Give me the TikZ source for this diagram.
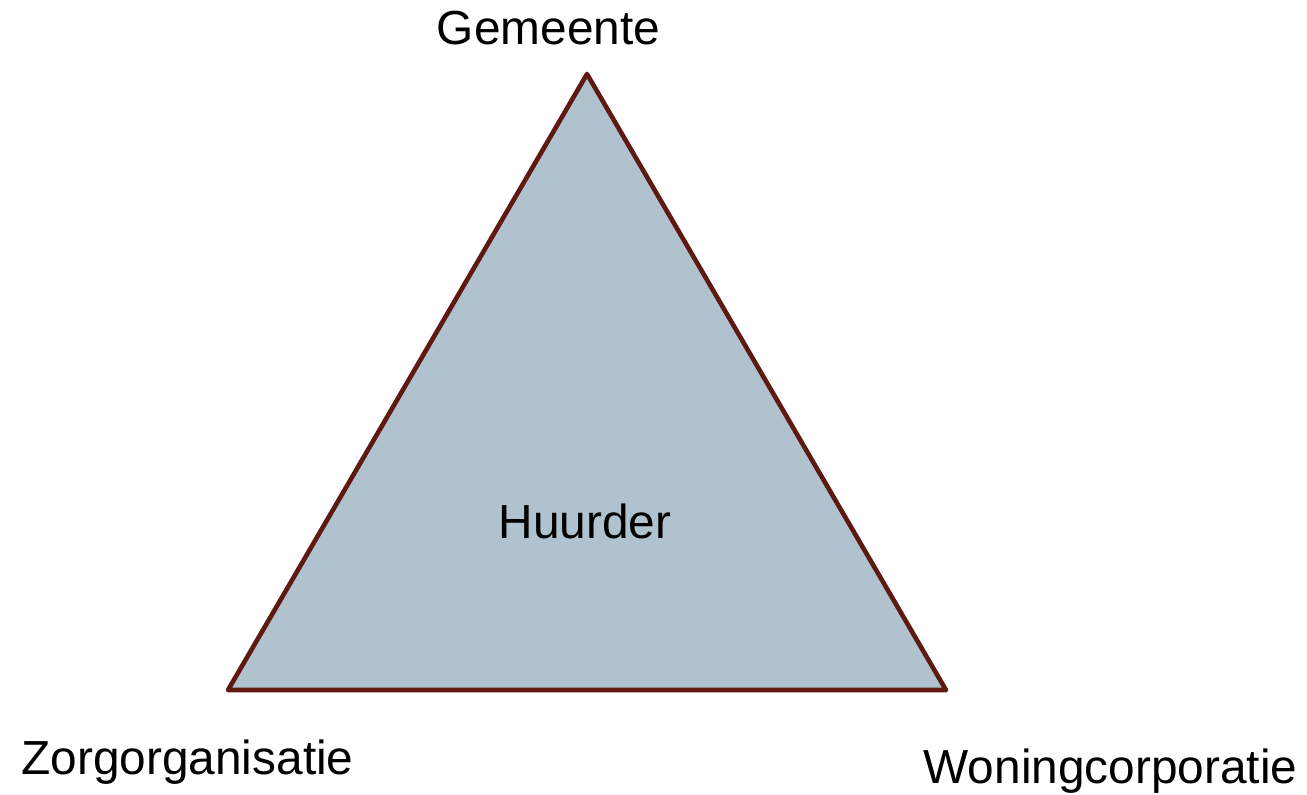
\documentclass[tikz,border=0pt]{standalone}
\usepackage{fontspec}
\setmainfont{Liberation Sans}
\definecolor{trifill}{HTML}{B0C2CE}
\definecolor{triedge}{HTML}{5E1A12}
\tikzset{lbl/.style={inner sep=0pt, anchor=base, font=\fontsize{47.8}{57}\selectfont}}
\begin{document}
\begin{tikzpicture}[x=1pt,y=-1pt]
\useasboundingbox (0,0) rectangle (1307,795);
\coordinate (top) at (587,74);
\coordinate (bl) at (228,690);
\coordinate (br) at (946,690);
\draw[triedge, fill=trifill, line width=4.6pt, line join=round] (top) -- (br) -- (bl) -- cycle;
\node[lbl] (gem) at (548.5,44) {Gemeente};
\node[lbl] (huur) at (585,538) {Huurder};
\node[lbl] (zorg) at (187.5,774) {Zorgorganisatie};
\node[lbl] (won) at (1110.5,783) {Woningcorporatie};
\end{tikzpicture}
\end{document}
